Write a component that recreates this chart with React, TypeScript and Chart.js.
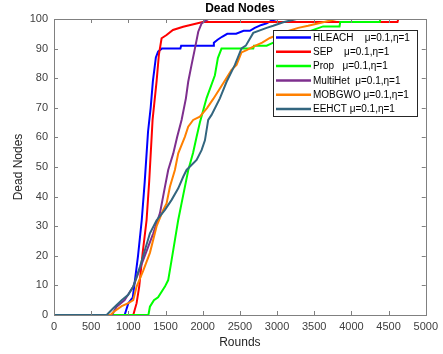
import React, { useEffect, useRef } from "react";
import { Chart, registerables } from "chart.js";

Chart.register(...registerables);

const seriesLabels = [
  "HLEACH    μ=0.1,η=1",
  "SEP    μ=0.1,η=1",
  "Prop   μ=0.1,η=1",
  "MultiHet  μ=0.1,η=1",
  "MOBGWO μ=0.1,η=1",
  "EEHCT μ=0.1,η=1",
];
const seriesColors = ["#0000FF", "#FF0000", "#00FF00", "#7E2F8E", "#FF8000", "#33667F"];

const hleachRounds = [0, 950, 1000, 1060, 1130, 1180, 1220, 1265, 1300, 1330, 1370, 1400, 1450, 1700, 1710, 2140, 2150, 2200, 2260, 2330, 2450, 2550, 2634, 2700, 2790, 2860, 2930, 3000, 5000];
const hleachDead = [0, 0, 4, 6, 20, 32, 45, 62, 70, 79, 87, 89, 90, 90, 91, 91, 92, 93, 94, 95, 95, 96, 96, 97, 98, 98.5, 99.5, 100, 100];

const sepRounds = [0, 1066, 1111, 1146, 1192, 1245, 1280, 1326, 1380, 1411, 1447, 1514, 1600, 1737, 1918, 2000, 4620, 4630, 5000];
const sepDead = [0, 0, 4, 9.6, 20.9, 32, 45, 66, 79, 88, 93.5, 94.6, 96.3, 97.4, 98.5, 99, 99, 100, 100];

const propRounds = [0, 1270, 1290, 1344, 1400, 1492, 1536, 1582, 1626, 1670, 1716, 1806, 1870, 1918, 1962, 2052, 2164, 2204, 2253, 2680, 2690, 2860, 2950, 3200, 3450, 3620, 3840, 3850, 4380, 4390, 5000];
const propDead = [0, 0, 2.8, 5, 6, 9.6, 11.8, 18.6, 25.3, 32, 37.8, 49, 54.7, 60.2, 65, 73.3, 81, 86.8, 90, 90, 91, 91, 92, 94, 96, 97.5, 97.5, 99, 99, 100, 100];

const multiHetRounds = [0, 780, 842, 950, 1066, 1200, 1335, 1425, 1492, 1536, 1604, 1657, 1716, 1774, 1805, 1850, 1895, 1940, 1985, 2030, 2080, 5000];
const multiHetDead = [0, 0, 2.8, 5, 9.6, 18.6, 27.6, 34.4, 43.3, 49, 54.6, 60.2, 65.9, 73.2, 78.8, 84.5, 90, 95.7, 98.5, 99.3, 100, 100];

const mobgwoRounds = [0, 760, 800, 910, 1000, 1066, 1111, 1200, 1290, 1380, 1469, 1514, 1559, 1626, 1671, 1760, 1805, 1872, 1962, 2060, 2142, 2276, 2388, 2455, 2522, 2590, 2680, 2800, 2903, 3000, 3128, 3284, 3418, 3620, 3800, 5000];
const mobgwoDead = [0, 0, 1, 3, 4, 5, 9.6, 15, 21, 30, 35.5, 37.7, 43.3, 49, 54.6, 60.2, 63.6, 65.9, 67, 70, 73, 78.3, 82.8, 84.5, 88.7, 89.5, 90.7, 92, 93.6, 94.5, 95.8, 97, 97.7, 98.9, 100, 100];

const eehctRounds = [0, 708, 797, 910, 998, 1066, 1156, 1290, 1380, 1492, 1582, 1671, 1738, 1783, 1918, 1985, 2030, 2074, 2119, 2231, 2321, 2433, 2522, 2580, 2680, 2860, 2948, 3082, 3262, 5000];
const eehctDead = [0, 0, 2.3, 5, 6.8, 9.6, 16.3, 27.6, 32, 35.5, 38.9, 42.8, 46.7, 49, 52.4, 55.7, 59, 65.9, 67.6, 73.2, 78.8, 84.5, 90.1, 91, 95.3, 97, 97.7, 98.9, 100, 100];

const xTickStep = 500;
const yTickStep = 10;

const seriesRounds = [hleachRounds, sepRounds, propRounds, multiHetRounds, mobgwoRounds, eehctRounds];
const seriesDead = [hleachDead, sepDead, propDead, multiHetDead, mobgwoDead, eehctDead];

const FONT = "'Liberation Sans', Arial, sans-serif";

const decorPlugin = {
  id: "decor",
  afterDatasetsDraw(chart: any) {
    const ctx = chart.ctx;
    const { left, right, top, bottom } = chart.chartArea;
    const xs = chart.scales.x;
    const ys = chart.scales.y;
    ctx.save();
    ctx.strokeStyle = "#808080";
    ctx.lineWidth = 1;
    ctx.strokeRect(Math.round(left) + 0.5, Math.round(top) + 0.5, Math.round(right - left), Math.round(bottom - top));
    const tl = 4;
    ctx.beginPath();
    for (let v = 0; v <= 5000; v += xTickStep) {
      const px = Math.round(xs.getPixelForValue(v)) + 0.5;
      ctx.moveTo(px, bottom);
      ctx.lineTo(px, bottom - tl);
      ctx.moveTo(px, top);
      ctx.lineTo(px, top + tl);
    }
    for (let v = 0; v <= 100; v += yTickStep) {
      const py = Math.round(ys.getPixelForValue(v)) + 0.5;
      ctx.moveTo(left, py);
      ctx.lineTo(left + tl, py);
      ctx.moveTo(right, py);
      ctx.lineTo(right - tl, py);
    }
    ctx.stroke();
    ctx.fillStyle = "#000";
    ctx.font = `bold 12px ${FONT}`;
    ctx.textAlign = "center";
    ctx.textBaseline = "middle";
    ctx.fillText("Dead Nodes", (left + right) / 2, 9);
    const lx = 273.5, ly = 30.5, lw = 144, lh = 86;
    ctx.fillStyle = "#fff";
    ctx.fillRect(lx, ly, lw, lh);
    ctx.strokeStyle = "#262626";
    ctx.lineWidth = 1;
    ctx.strokeRect(lx, ly, lw, lh);
    ctx.font = `10px ${FONT}`;
    ctx.textAlign = "left";
    chart.data.datasets.forEach((ds: any, i: number) => {
      const y = 37.5 + i * 14.3;
      ctx.strokeStyle = ds.borderColor;
      ctx.lineWidth = 2.5;
      ctx.beginPath();
      ctx.moveTo(276, y);
      ctx.lineTo(311, y);
      ctx.stroke();
      ctx.fillStyle = "#000";
      ctx.fillText(ds.label, 313, y + 0.5);
    });
    ctx.restore();
  },
};

export default function App() {
  const ref = useRef<HTMLCanvasElement>(null);
  useEffect(() => {
    if (!ref.current) return;
    const datasets = seriesLabels.map((label, i) => ({
      label,
      data: seriesRounds[i].map((r, j) => ({ x: r, y: seriesDead[i][j] })),
      borderColor: seriesColors[i],
      backgroundColor: seriesColors[i],
      borderWidth: 2,
      pointRadius: 0,
      tension: 0,
      fill: false,
      order: seriesLabels.length - i,
    }));
    const chart = new Chart(ref.current, {
      type: "line",
      data: { datasets },
      plugins: [decorPlugin],
      options: {
        animation: false,
        responsive: false,
        layout: { padding: { top: 19, right: 17, left: 0, bottom: 0 } },
        plugins: { legend: { display: false }, tooltip: { enabled: false }, title: { display: false } },
        scales: {
          x: {
            type: "linear",
            min: 0,
            max: 5000,
            grid: { display: false, drawTicks: false },
            border: { display: false },
            ticks: { stepSize: xTickStep, color: "#404040", font: { size: 11, family: FONT }, padding: 5, maxRotation: 0, autoSkip: false, callback: (v: any) => String(v) },
            title: { display: true, text: "Rounds", color: "#262626", font: { size: 12, family: FONT }, padding: { top: 0, bottom: 4 } },
            afterFit: (s: any) => { s.height = 39; },
          },
          y: {
            type: "linear",
            min: 0,
            max: 100,
            grid: { display: false, drawTicks: false },
            border: { display: false },
            ticks: { stepSize: yTickStep, color: "#404040", font: { size: 11, family: FONT }, padding: 6, callback: (v: any) => String(v) },
            title: { display: true, text: "Dead Nodes", color: "#262626", font: { size: 12, family: FONT }, padding: { top: 11, bottom: 0 } },
            afterFit: (s: any) => { s.width = 54; },
          },
        },
      },
    });
    return () => chart.destroy();
  }, []);
  return (
    <div style={{ position: "fixed", left: 0, top: 0, width: 443, height: 354, background: "#fff" }}>
      <canvas ref={ref} width={443} height={354} style={{ display: "block" }} />
    </div>
  );
}
